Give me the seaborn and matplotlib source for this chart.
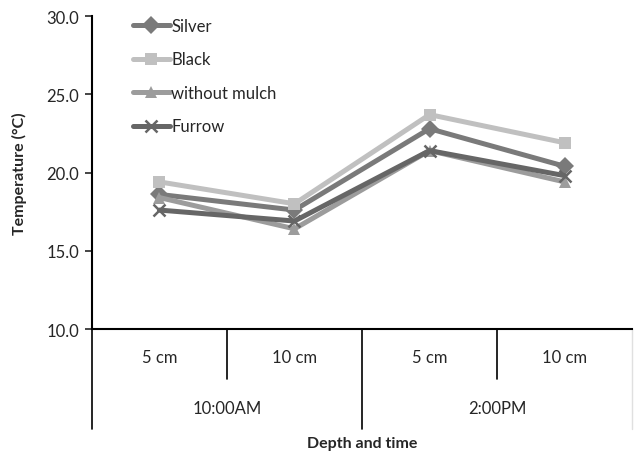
import numpy as np
import pandas as pd
import seaborn as sns
import matplotlib.pyplot as plt

# data
depths = ['5 cm', '10 cm', '5 cm', '10 cm']
times = ['10:00AM', '2:00PM']
silver = [18.6, 17.6, 22.8, 20.4]
black = [19.4, 18.0, 23.7, 21.9]
without_mulch = [18.4, 16.4, 21.4, 19.4]
furrow = [17.6, 16.9, 21.4, 19.8]

series = ['Silver', 'Black', 'without mulch', 'Furrow']
colors = ['#7a7a7a', '#c0c0c0', '#9c9c9c', '#666666']
markers = ['D', 's', '^', 'X']

keys = [f'{t} {d}' for t in times for d in depths[:2]]
df = pd.DataFrame({
    'Condition': keys * 4,
    'Temperature': silver + black + without_mulch + furrow,
    'Treatment': np.repeat(series, 4),
})
df['pos'] = df['Condition'].map({k: i for i, k in enumerate(keys)})

sns.set_style('white')
plt.rcParams['font.family'] = ['Lato', 'DejaVu Sans']
FS = 12

fig = plt.figure(figsize=(6.34, 4.56), dpi=100)
ax = fig.add_axes([0.145, 0.2763, 0.852, 0.6864])

sns.lineplot(data=df, x='pos', y='Temperature', hue='Treatment', style='Treatment',
             hue_order=series, style_order=series, palette=colors,
             markers=dict(zip(series, markers)), dashes=False,
             linewidth=3.6, markersize=9, ax=ax)


def fix_markers(lines):
    # filled markers without edge, the cross drawn as thin strokes
    for line, m in zip(lines, markers):
        if m == 'X':
            line.set_marker('x')
            line.set_markersize(9)
            line.set_markeredgewidth(1.8)
            line.set_markeredgecolor(line.get_color())
        else:
            line.set_markeredgewidth(0)


fix_markers(ax.lines[:4])

ax.set_xlim(-0.5, 3.5)
ax.set_ylim(10, 30)
ax.set_yticks([10, 15, 20, 25, 30])
ax.set_yticklabels([f'{v:.1f}' for v in [10, 15, 20, 25, 30]], fontsize=FS)
ax.tick_params(axis='y', which='major', direction='out', length=5, width=1.2, left=True, pad=4)
ax.set_xticks([])
ax.set_xlabel('')
ax.set_ylabel('Temperature (°C)', fontsize=FS - 0.5, fontweight='bold', labelpad=14)

for side in ['top', 'right']:
    ax.spines[side].set_visible(False)
for side in ['left', 'bottom']:
    ax.spines[side].set_color('black')
    ax.spines[side].set_linewidth(1.5)

# two-level category axis
trans = ax.get_xaxis_transform()
for i, d in enumerate(depths):
    ax.text(i, -0.09, d, transform=trans, ha='center', va='center', fontsize=FS)
for j, t in enumerate(times):
    ax.text(0.5 + 2 * j, -0.252, t, transform=trans, ha='center', va='center', fontsize=FS)
for xpos in [0.5, 2.5]:
    ax.plot([xpos, xpos], [0, -0.16], transform=trans, color='black', lw=1.2, clip_on=False)
for xpos in [-0.5, 1.5]:
    ax.plot([xpos, xpos], [0, -0.32], transform=trans, color='black', lw=1.2, clip_on=False)
ax.plot([3.5, 3.5], [0, -0.32], transform=trans, color='#e0e0e0', lw=1.0, clip_on=False)
ax.text(0.5, -0.365, 'Depth and time', transform=ax.transAxes, ha='center', va='center',
        fontsize=FS - 0.5, fontweight='bold')

leg = ax.legend(loc='upper left', bbox_to_anchor=(0.048, 1.042), frameon=False, fontsize=FS,
                handlelength=2.2, handletextpad=0.1, labelspacing=1.05)
for h in leg.legend_handles:
    h.set_linewidth(3.6)
fix_markers(leg.legend_handles)

fig.savefig('out.png', dpi=100)
